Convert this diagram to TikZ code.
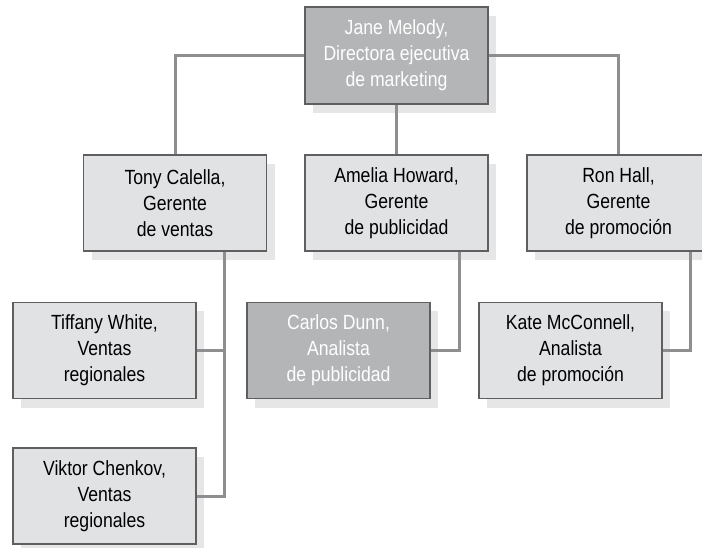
\documentclass[tikz,border=0pt]{standalone}
\usepackage{fontspec}
\setmainfont{Liberation Sans}[FakeStretch=0.86]
\usepackage{xcolor}
\usepackage{tikz}
\usetikzlibrary{positioning, shadows}
\definecolor{boxlight}{HTML}{E1E2E4}
\definecolor{boxdark}{HTML}{B4B5B7}
\definecolor{boxshadow}{HTML}{E6E6E7}
\definecolor{boxline}{HTML}{5F5F61}
\definecolor{linkgray}{HTML}{8E8E90}
\tikzstyle{link} = [line width=3pt, draw=linkgray]
\tikzstyle{person} = [rectangle, minimum width=183pt, minimum height=96pt, inner sep=0pt, align=center, draw=boxline, line width=1.3pt, font=\fontsize{20.5}{26}\selectfont, drop shadow={shadow xshift=8pt, shadow yshift=-9pt, fill=boxshadow, opacity=1}]
\tikzstyle{light} = [person, fill=boxlight, text=black]
\tikzstyle{dark} = [person, fill=boxdark, text=white]

\begin{document}
\begin{tikzpicture}[node distance=147.5pt]
\useasboundingbox (0pt,0pt) rectangle (702pt,-548pt);

% Director
\node (jane) [dark, minimum height=97pt] at (396.5pt,-55.5pt) {Jane Melody,\\Directora ejecutiva\\de marketing};

% Managers
\node (amelia) [light, below of=jane] {Amelia Howard,\\Gerente\\de publicidad};
\node (tony) [light, left of=amelia, xshift=-74pt] {Tony Calella,\\Gerente\\de ventas};
\node (ron) [light, right of=amelia, xshift=74.5pt] {Ron Hall,\\Gerente\\de promoción};

% Staff
\node (tiffany) [light, below of=tony, xshift=-70.5pt] {Tiffany White,\\Ventas\\regionales};
\node (viktor) [light, below of=tiffany, yshift=2pt] {Viktor Chenkov,\\Ventas\\regionales};
\node (carlos) [dark, below of=amelia, xshift=-58pt] {Carlos Dunn,\\Analista\\de publicidad};
\node (kate) [light, below of=ron, xshift=-48pt] {Kate McConnell,\\Analista\\de promoción};

% Joints
\coordinate (tonyjoint) at ([xshift=28pt]tiffany.east);
\coordinate (ameliajoint) at ([xshift=29pt]carlos.east);
\coordinate (ronjoint) at ([xshift=28pt]kate.east);

% Connections
\draw [link] (jane.west) -| (tony.north);
\draw [link] (jane.east) -| (ron.north);
\draw [link] (jane.south) -- (amelia.north);
\draw [link] (tony.south -| tonyjoint) |- (viktor.east);
\draw [link] (tonyjoint) -- (tiffany.east);
\draw [link] (amelia.south -| ameliajoint) |- (carlos.east);
\draw [link] (ron.south -| ronjoint) |- (kate.east);

\end{tikzpicture}
\end{document}
